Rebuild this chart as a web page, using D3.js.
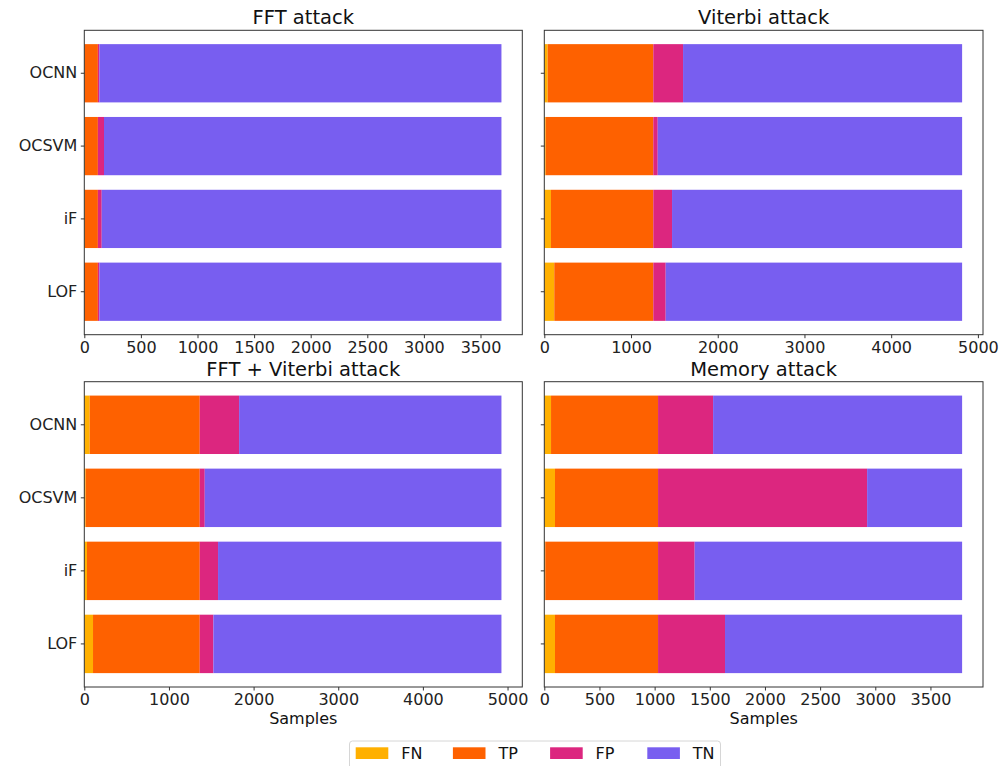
<!DOCTYPE html>
<html>
<head>
<meta charset="utf-8">
<script src="https://cdn.jsdelivr.net/npm/d3@7"></script>
<style>
  html, body { margin: 0; padding: 0; background: #fff; }
  svg { display: block; font-family: "DejaVu Sans", sans-serif; }
</style>
</head>
<body>
<svg id="chart" width="1000" height="766"></svg>
<script>
// ---------------- data ----------------
const categories = ["OCNN", "OCSVM", "iF", "LOF"];
const seriesNames = ["FN", "TP", "FP", "TN"];
const seriesColors = ["#FFB000", "#FE6100", "#DC267F", "#785EF0"];

// FFT attack
const fftFN = [1, 4, 4, 0];
const fftTP = [119, 116, 116, 120];
const fftFP = [13, 54, 34, 13];
const fftTN = [3552, 3511, 3531, 3552];
const fftTicks = [0, 500, 1000, 1500, 2000, 2500, 3000, 3500];

// Viterbi attack
const vitFN = [39, 16, 77, 115];
const vitTP = [1218, 1241, 1180, 1142];
const vitFP = [343, 51, 216, 143];
const vitTN = [3218, 3510, 3345, 3418];
const vitTicks = [0, 1000, 2000, 3000, 4000, 5000];

// FFT + Viterbi attack
const fvFN = [64, 16, 32, 103];
const fvTP = [1300, 1348, 1332, 1261];
const fvFP = [465, 59, 216, 161];
const fvTN = [3099, 3505, 3348, 3403];
const fvTicks = [0, 1000, 2000, 3000, 4000, 5000];

// Memory attack
const memFN = [61, 97, 9, 97];
const memTP = [970, 934, 1022, 934];
const memFP = [499, 1895, 332, 607];
const memTN = [2257, 861, 2424, 2149];
const memTicks = [0, 500, 1000, 1500, 2000, 2500, 3000, 3500];

const panels = [
  { title: "FFT attack", series: [fftFN, fftTP, fftFP, fftTN], ticks: fftTicks, col: 0, row: 0, xlabel: false },
  { title: "Viterbi attack", series: [vitFN, vitTP, vitFP, vitTN], ticks: vitTicks, col: 1, row: 0, xlabel: false },
  { title: "FFT + Viterbi attack", series: [fvFN, fvTP, fvFP, fvTN], ticks: fvTicks, col: 0, row: 1, xlabel: true },
  { title: "Memory attack", series: [memFN, memTP, memFP, memTN], ticks: memTicks, col: 1, row: 1, xlabel: true }
];

// ---------------- layout ----------------
const colX = [[84.3, 522.3], [544.3, 983]];
const rowY = [[30.3, 334.7], [381.7, 687]];

const svg = d3.select("#chart");

panels.forEach(p => {
  const [x0, x1] = colX[p.col];
  const [y0, y1] = rowY[p.row];
  const g = svg.append("g");

  const rows = categories.map((c, i) => {
    let acc = 0;
    const segs = p.series.map((s, k) => {
      const seg = { name: seriesNames[k], start: acc, end: acc + s[i], color: seriesColors[k] };
      acc += s[i];
      return seg;
    });
    return { cat: c, segs, total: acc };
  });
  const maxTotal = d3.max(rows, r => r.total);

  const x = d3.scaleLinear().domain([0, maxTotal * 1.05]).range([x0, x1]);
  const y = d3.scaleBand().domain(categories).range([y0, y1]).paddingInner(0.2).paddingOuter(0.19);

  rows.forEach(r => {
    g.selectAll(null)
      .data(r.segs)
      .enter()
      .append("rect")
      .attr("x", d => x(d.start))
      .attr("y", y(r.cat))
      .attr("width", d => Math.max(0, x(d.end) - x(d.start)))
      .attr("height", y.bandwidth())
      .attr("fill", d => d.color);
  });

  g.append("rect")
    .attr("x", x0).attr("y", y0)
    .attr("width", x1 - x0).attr("height", y1 - y0)
    .attr("fill", "none").attr("stroke", "#333").attr("stroke-width", 1);

  const xa = g.append("g")
    .attr("transform", `translate(0,${y1})`)
    .call(d3.axisBottom(x).tickValues(p.ticks).tickFormat(d3.format("d")).tickSize(3.5).tickPadding(3.5));
  xa.select(".domain").remove();
  xa.selectAll("line").attr("stroke", "#333");
  xa.selectAll("text").attr("font-size", "16px").attr("fill", "#222")
    .attr("font-family", "DejaVu Sans, sans-serif");

  const ya = g.append("g")
    .attr("transform", `translate(${x0},0)`)
    .call(d3.axisLeft(y).tickSize(3.5).tickPadding(3.5));
  ya.select(".domain").remove();
  ya.selectAll("line").attr("stroke", "#333");
  ya.selectAll("text").attr("font-size", "16px").attr("fill", "#222")
    .attr("font-family", "DejaVu Sans, sans-serif");
  if (p.col === 1) ya.selectAll("text").remove();

  g.append("text")
    .attr("x", (x0 + x1) / 2).attr("y", y0 - 6)
    .attr("text-anchor", "middle")
    .attr("font-size", "19.5px").attr("fill", "#111")
    .text(p.title);

  if (p.xlabel) {
    g.append("text")
      .attr("x", (x0 + x1) / 2).attr("y", y1 + 37)
      .attr("text-anchor", "middle")
      .attr("font-size", "16px").attr("fill", "#111")
      .text("Samples");
  }
});

// ---------------- legend ----------------
const leg = svg.append("g");
leg.append("rect")
  .attr("x", 349.5).attr("y", 741).attr("width", 371).attr("height", 40)
  .attr("rx", 3).attr("fill", "#fff").attr("stroke", "#d6d6d6").attr("stroke-width", 1);
seriesNames.forEach((n, i) => {
  const lx = 355.7 + i * 97.2;
  leg.append("rect")
    .attr("x", lx).attr("y", 747.3).attr("width", 32.6).attr("height", 11.7)
    .attr("fill", seriesColors[i]);
  leg.append("text")
    .attr("x", lx + 45.5).attr("y", 759)
    .attr("font-size", "16px").attr("fill", "#111")
    .text(n);
});
</script>
</body>
</html>
